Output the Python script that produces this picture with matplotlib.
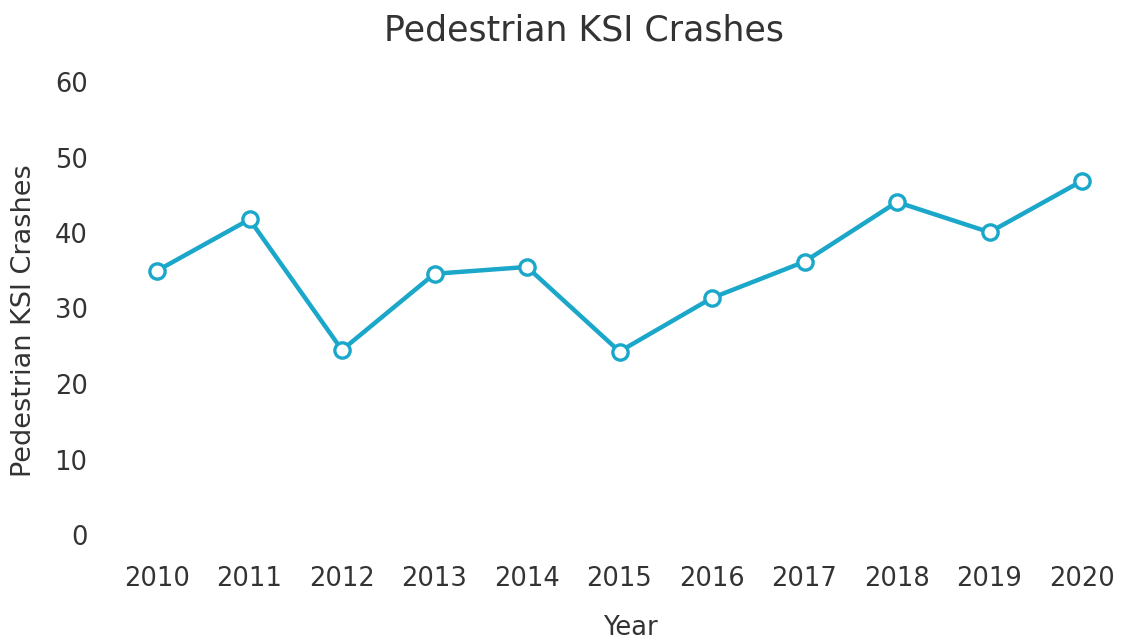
import matplotlib
matplotlib.use("Agg")
import matplotlib.pyplot as plt

years = [2010, 2011, 2012, 2013, 2014, 2015, 2016, 2017, 2018, 2019, 2020]
ksi_crashes = [35, 41.8, 24.5, 34.6, 35.5, 24.3, 31.4, 36.2, 44.1, 40.1, 46.9]
y_ticks = [0, 10, 20, 30, 40, 50, 60]

plt.rcParams['font.family'] = ['DejaVu Sans']
text_color = '#333333'
line_color = '#1AA7C9'

fig = plt.figure(figsize=(11.46, 6.41), dpi=100)
W, H = 1146, 641
ax = fig.add_axes([157 / W, 1 - 535 / H, (1082 - 157) / W, (535 - 82) / H])

ax.plot(years, ksi_crashes, color=line_color, linewidth=3.2, marker='o',
        markersize=11, markerfacecolor='white', markeredgecolor=line_color,
        markeredgewidth=2.4, clip_on=False, zorder=3)

ax.set_xlim(2010, 2020)
ax.set_ylim(0, 60)
ax.set_xticks(years)
ax.set_xticklabels([str(y) for y in years])
ax.set_yticks(y_ticks)

for s in ax.spines.values():
    s.set_visible(False)
ax.tick_params(axis='both', length=0, labelsize=18.5, colors=text_color)
ax.tick_params(axis='y', pad=50)
ax.tick_params(axis='x', pad=22)

ax.set_title('Pedestrian KSI Crashes', fontsize=25, color=text_color, pad=30,
             x=(584 - 157) / 925)
ax.set_xlabel('Year', fontsize=18.5, color=text_color)
ax.xaxis.set_label_coords((630 - 157) / 925, -0.176)
ax.set_ylabel('Pedestrian KSI Crashes', fontsize=19.5, color=text_color)
ax.yaxis.set_label_coords((37 - 157) / 925, (535 - 321) / 453)

fig.savefig('out.png', dpi=100, facecolor='white')
